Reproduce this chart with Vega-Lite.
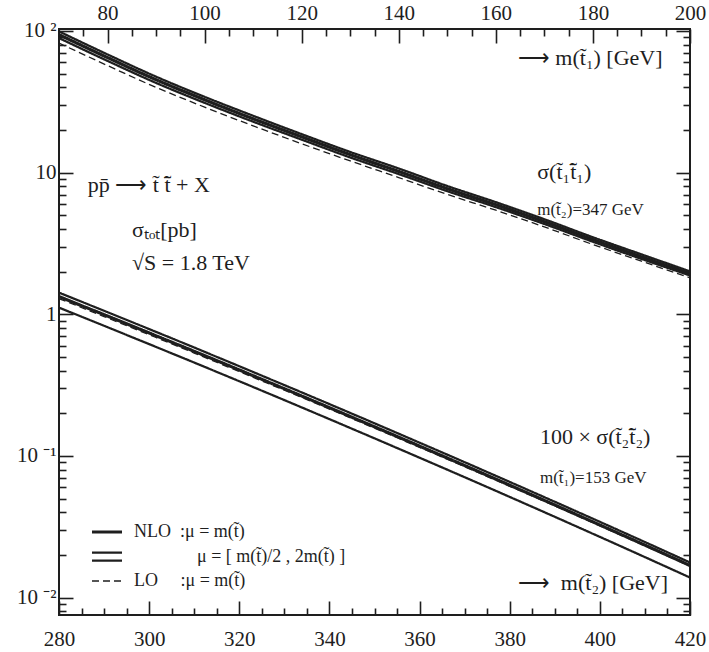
{
  "$schema": "https://vega.github.io/schema/vega-lite/v6.json",
  "width": 631,
  "height": 586,
  "autosize": {"type": "none"},
  "padding": {"left": 59, "top": 29, "right": 19, "bottom": 37},
  "config": {
    "view": {"stroke": "#1e1e1e", "strokeWidth": 2},
    "font": "Liberation Serif",
    "axis": {"domain": false, "grid": false, "ticks": true, "zindex": 1, "tickColor": "#1e1e1e", "tickWidth": 1.6, "labelColor": "#1e1e1e", "labelFont": "Liberation Serif", "labelFontSize": 21, "labelFlush": false, "labelOverlap": false, "title": null},
    "legend": {"title": null, "orient": "bottom-left", "offset": 25, "padding": 0, "symbolType": "stroke", "symbolSize": 400, "symbolStrokeColor": "#1e1e1e", "labelFont": "Liberation Serif", "labelFontSize": 18, "labelColor": "#1e1e1e", "labelOffset": 26, "rowPadding": 4, "labelLimit": 400},
    "line": {"color": "#1e1e1e"},
    "text": {"color": "#1e1e1e", "font": "Liberation Serif"}
  },
  "datasets": {
    "stop2": [
      {"m": 280, "series": "NLO", "kind": "NLO", "sigma": 1.334},
      {"m": 290, "series": "NLO", "kind": "NLO", "sigma": 0.994},
      {"m": 300, "series": "NLO", "kind": "NLO", "sigma": 0.739},
      {"m": 310, "series": "NLO", "kind": "NLO", "sigma": 0.548},
      {"m": 320, "series": "NLO", "kind": "NLO", "sigma": 0.405},
      {"m": 330, "series": "NLO", "kind": "NLO", "sigma": 0.2984},
      {"m": 340, "series": "NLO", "kind": "NLO", "sigma": 0.2193},
      {"m": 350, "series": "NLO", "kind": "NLO", "sigma": 0.1607},
      {"m": 360, "series": "NLO", "kind": "NLO", "sigma": 0.1174},
      {"m": 370, "series": "NLO", "kind": "NLO", "sigma": 0.0856},
      {"m": 380, "series": "NLO", "kind": "NLO", "sigma": 0.0622},
      {"m": 390, "series": "NLO", "kind": "NLO", "sigma": 0.0451},
      {"m": 400, "series": "NLO", "kind": "NLO", "sigma": 0.03258},
      {"m": 410, "series": "NLO", "kind": "NLO", "sigma": 0.02348},
      {"m": 420, "series": "NLO", "kind": "NLO", "sigma": 0.01686},
      {"m": 280, "series": "hi", "kind": "scale", "sigma": 1.423},
      {"m": 290, "series": "hi", "kind": "scale", "sigma": 1.059},
      {"m": 300, "series": "hi", "kind": "scale", "sigma": 0.787},
      {"m": 310, "series": "hi", "kind": "scale", "sigma": 0.583},
      {"m": 320, "series": "hi", "kind": "scale", "sigma": 0.430},
      {"m": 330, "series": "hi", "kind": "scale", "sigma": 0.3166},
      {"m": 340, "series": "hi", "kind": "scale", "sigma": 0.2324},
      {"m": 350, "series": "hi", "kind": "scale", "sigma": 0.1701},
      {"m": 360, "series": "hi", "kind": "scale", "sigma": 0.1241},
      {"m": 370, "series": "hi", "kind": "scale", "sigma": 0.0904},
      {"m": 380, "series": "hi", "kind": "scale", "sigma": 0.0656},
      {"m": 390, "series": "hi", "kind": "scale", "sigma": 0.0475},
      {"m": 400, "series": "hi", "kind": "scale", "sigma": 0.03429},
      {"m": 410, "series": "hi", "kind": "scale", "sigma": 0.02468},
      {"m": 420, "series": "hi", "kind": "scale", "sigma": 0.01770},
      {"m": 280, "series": "lo", "kind": "scale", "sigma": 1.115},
      {"m": 290, "series": "lo", "kind": "scale", "sigma": 0.830},
      {"m": 300, "series": "lo", "kind": "scale", "sigma": 0.616},
      {"m": 310, "series": "lo", "kind": "scale", "sigma": 0.4565},
      {"m": 320, "series": "lo", "kind": "scale", "sigma": 0.337},
      {"m": 330, "series": "lo", "kind": "scale", "sigma": 0.248},
      {"m": 340, "series": "lo", "kind": "scale", "sigma": 0.182},
      {"m": 350, "series": "lo", "kind": "scale", "sigma": 0.1332},
      {"m": 360, "series": "lo", "kind": "scale", "sigma": 0.0972},
      {"m": 370, "series": "lo", "kind": "scale", "sigma": 0.0708},
      {"m": 380, "series": "lo", "kind": "scale", "sigma": 0.0514},
      {"m": 390, "series": "lo", "kind": "scale", "sigma": 0.0372},
      {"m": 400, "series": "lo", "kind": "scale", "sigma": 0.02685},
      {"m": 410, "series": "lo", "kind": "scale", "sigma": 0.01932},
      {"m": 420, "series": "lo", "kind": "scale", "sigma": 0.01386},
      {"m": 280, "series": "LO", "kind": "LO", "sigma": 1.291},
      {"m": 290, "series": "LO", "kind": "LO", "sigma": 0.964},
      {"m": 300, "series": "LO", "kind": "LO", "sigma": 0.7175},
      {"m": 310, "series": "LO", "kind": "LO", "sigma": 0.533},
      {"m": 320, "series": "LO", "kind": "LO", "sigma": 0.394},
      {"m": 330, "series": "LO", "kind": "LO", "sigma": 0.291},
      {"m": 340, "series": "LO", "kind": "LO", "sigma": 0.2142},
      {"m": 350, "series": "LO", "kind": "LO", "sigma": 0.1572},
      {"m": 360, "series": "LO", "kind": "LO", "sigma": 0.1150},
      {"m": 370, "series": "LO", "kind": "LO", "sigma": 0.0840},
      {"m": 380, "series": "LO", "kind": "LO", "sigma": 0.0611},
      {"m": 390, "series": "LO", "kind": "LO", "sigma": 0.0444},
      {"m": 400, "series": "LO", "kind": "LO", "sigma": 0.03210},
      {"m": 410, "series": "LO", "kind": "LO", "sigma": 0.02317},
      {"m": 420, "series": "LO", "kind": "LO", "sigma": 0.01666}
    ],
    "stop1": [
      {"m": 70, "series": "NLO", "kind": "NLO", "sigma": 94.2},
      {"m": 80, "series": "NLO", "kind": "NLO", "sigma": 64.9},
      {"m": 90, "series": "NLO", "kind": "NLO", "sigma": 45.3},
      {"m": 100, "series": "NLO", "kind": "NLO", "sigma": 32.7},
      {"m": 110, "series": "NLO", "kind": "NLO", "sigma": 24.0},
      {"m": 120, "series": "NLO", "kind": "NLO", "sigma": 17.9},
      {"m": 130, "series": "NLO", "kind": "NLO", "sigma": 13.4},
      {"m": 140, "series": "NLO", "kind": "NLO", "sigma": 10.2},
      {"m": 150, "series": "NLO", "kind": "NLO", "sigma": 7.71},
      {"m": 160, "series": "NLO", "kind": "NLO", "sigma": 5.94},
      {"m": 170, "series": "NLO", "kind": "NLO", "sigma": 4.51},
      {"m": 180, "series": "NLO", "kind": "NLO", "sigma": 3.37},
      {"m": 190, "series": "NLO", "kind": "NLO", "sigma": 2.55},
      {"m": 200, "series": "NLO", "kind": "NLO", "sigma": 1.94},
      {"m": 70, "series": "hi", "kind": "scale", "sigma": 99.3},
      {"m": 80, "series": "hi", "kind": "scale", "sigma": 68.3},
      {"m": 90, "series": "hi", "kind": "scale", "sigma": 47.6},
      {"m": 100, "series": "hi", "kind": "scale", "sigma": 34.3},
      {"m": 110, "series": "hi", "kind": "scale", "sigma": 25.2},
      {"m": 120, "series": "hi", "kind": "scale", "sigma": 18.7},
      {"m": 130, "series": "hi", "kind": "scale", "sigma": 14.0},
      {"m": 140, "series": "hi", "kind": "scale", "sigma": 10.7},
      {"m": 150, "series": "hi", "kind": "scale", "sigma": 8.05},
      {"m": 160, "series": "hi", "kind": "scale", "sigma": 6.19},
      {"m": 170, "series": "hi", "kind": "scale", "sigma": 4.69},
      {"m": 180, "series": "hi", "kind": "scale", "sigma": 3.50},
      {"m": 190, "series": "hi", "kind": "scale", "sigma": 2.65},
      {"m": 200, "series": "hi", "kind": "scale", "sigma": 2.01},
      {"m": 70, "series": "lo", "kind": "scale", "sigma": 89.1},
      {"m": 80, "series": "lo", "kind": "scale", "sigma": 61.5},
      {"m": 90, "series": "lo", "kind": "scale", "sigma": 43.0},
      {"m": 100, "series": "lo", "kind": "scale", "sigma": 31.1},
      {"m": 110, "series": "lo", "kind": "scale", "sigma": 22.9},
      {"m": 120, "series": "lo", "kind": "scale", "sigma": 17.1},
      {"m": 130, "series": "lo", "kind": "scale", "sigma": 12.8},
      {"m": 140, "series": "lo", "kind": "scale", "sigma": 9.77},
      {"m": 150, "series": "lo", "kind": "scale", "sigma": 7.40},
      {"m": 160, "series": "lo", "kind": "scale", "sigma": 5.71},
      {"m": 170, "series": "lo", "kind": "scale", "sigma": 4.34},
      {"m": 180, "series": "lo", "kind": "scale", "sigma": 3.25},
      {"m": 190, "series": "lo", "kind": "scale", "sigma": 2.46},
      {"m": 200, "series": "lo", "kind": "scale", "sigma": 1.88},
      {"m": 70, "series": "LO", "kind": "LO", "sigma": 82.2},
      {"m": 80, "series": "LO", "kind": "LO", "sigma": 57.0},
      {"m": 90, "series": "LO", "kind": "LO", "sigma": 40.0},
      {"m": 100, "series": "LO", "kind": "LO", "sigma": 29.0},
      {"m": 110, "series": "LO", "kind": "LO", "sigma": 21.4},
      {"m": 120, "series": "LO", "kind": "LO", "sigma": 16.0},
      {"m": 130, "series": "LO", "kind": "LO", "sigma": 12.1},
      {"m": 140, "series": "LO", "kind": "LO", "sigma": 9.23},
      {"m": 150, "series": "LO", "kind": "LO", "sigma": 7.02},
      {"m": 160, "series": "LO", "kind": "LO", "sigma": 5.43},
      {"m": 170, "series": "LO", "kind": "LO", "sigma": 4.14},
      {"m": 180, "series": "LO", "kind": "LO", "sigma": 3.11},
      {"m": 190, "series": "LO", "kind": "LO", "sigma": 2.37},
      {"m": 200, "series": "LO", "kind": "LO", "sigma": 1.81}
    ],
    "bigText": [
      {"x": 286.4, "y": 8.18, "text": "pp̄ ⟶ t̃ t̃̄ + X"},
      {"x": 296.2, "y": 3.94, "text": "σₜₒₜ[pb]"},
      {"x": 296.2, "y": 2.30, "text": "√S = 1.8 TeV"},
      {"x": 386.1, "y": 10.1, "text": "σ(t̃₁t̃̄₁)"},
      {"x": 386.7, "y": 0.136, "text": "100 × σ(t̃₂t̃̄₂)"},
      {"x": 381.8, "y": 64.5, "text": "⟶ m(t̃₁) [GeV]"},
      {"x": 381.8, "y": 0.01268, "text": "⟶ \u00a0m(t̃₂) [GeV]"}
    ],
    "smallText": [
      {"x": 386.1, "y": 5.45, "text": "m(t̃₂)=347 GeV"},
      {"x": 386.7, "y": 0.0698, "text": "m(t̃₁)=153 GeV"}
    ]
  },
  "layer": [
    {
      "data": {"name": "stop2"},
      "transform": [{"filter": "datum.m === 280"}],
      "mark": {"type": "line"},
      "encoding": {
        "x": {"field": "m", "type": "quantitative", "scale": {"domain": [280, 420], "nice": false, "zero": false}, "axis": null},
        "y": {"field": "sigma", "type": "quantitative", "scale": {"type": "log", "domain": [0.00754, 103.3], "nice": false}, "axis": null},
        "detail": {"field": "series"},
        "strokeWidth": {"field": "kind", "type": "nominal", "scale": {"domain": ["NLO", "scale", "LO"], "range": [3.2, 1.3, 1.5]},
          "legend": {"labelExpr": "datum.value === 'NLO' ? 'NLO\u00a0\u00a0:μ = m(t̃)' : datum.value === 'scale' ? '\u200b\u00a0\u00a0\u00a0\u00a0\u00a0\u00a0\u00a0\u00a0\u00a0\u00a0\u00a0\u00a0\u00a0\u00a0μ = [ m(t̃)/2 , 2m(t̃) ]' : 'LO\u00a0\u00a0\u00a0\u00a0\u00a0:μ = m(t̃)'",
            "encode": {"symbols": {"update": {"shape": {"signal": "datum.value === 'scale' ? 'M-0.4,-0.4H2.6M-0.4,0.4H2.6' : 'M-0.4,0H2.6'"}}}}}},
        "strokeDash": {"field": "kind", "type": "nominal", "scale": {"domain": ["NLO", "scale", "LO"], "range": [[1, 0], [1, 0], [7, 4]]},
          "legend": {"labelExpr": "datum.value === 'NLO' ? 'NLO\u00a0\u00a0:μ = m(t̃)' : datum.value === 'scale' ? '\u200b\u00a0\u00a0\u00a0\u00a0\u00a0\u00a0\u00a0\u00a0\u00a0\u00a0\u00a0\u00a0\u00a0\u00a0μ = [ m(t̃)/2 , 2m(t̃) ]' : 'LO\u00a0\u00a0\u00a0\u00a0\u00a0:μ = m(t̃)'",
            "encode": {"symbols": {"update": {"shape": {"signal": "datum.value === 'scale' ? 'M-0.4,-0.4H2.6M-0.4,0.4H2.6' : 'M-0.4,0H2.6'"}}}}}}
      }
    },
    {
      "data": {"name": "bigText"},
      "mark": {"type": "text", "align": "left", "baseline": "middle", "fontSize": 22},
      "encoding": {
        "x": {"field": "x", "type": "quantitative", "scale": {"domain": [280, 420], "nice": false, "zero": false}, "axis": null},
        "y": {"field": "y", "type": "quantitative", "scale": {"type": "log", "domain": [0.00754, 103.3], "nice": false}, "axis": null},
        "text": {"field": "text"}
      }
    },
    {
      "data": {"name": "smallText"},
      "mark": {"type": "text", "align": "left", "baseline": "middle", "fontSize": 17},
      "encoding": {
        "x": {"field": "x", "type": "quantitative", "scale": {"domain": [280, 420], "nice": false, "zero": false}, "axis": null},
        "y": {"field": "y", "type": "quantitative", "scale": {"type": "log", "domain": [0.00754, 103.3], "nice": false}, "axis": null},
        "text": {"field": "text"}
      }
    },
    {
      "data": {"name": "stop1"},
      "mark": {"type": "line", "interpolate": "monotone"},
      "encoding": {
        "x": {"field": "m", "type": "quantitative", "scale": {"domain": [70, 200], "nice": false, "zero": false},
          "axis": {"orient": "top", "values": [75,80,85,90,95,100,105,110,115,120,125,130,135,140,145,150,155,160,165,170,175,180,185,190,195,200],
            "labelExpr": "datum.value % 20 === 0 ? datum.label : ''",
            "tickSize": {"condition": {"test": "datum.value % 20 === 0", "value": -14}, "value": -7},
            "labelPadding": 20}},
        "y": {"field": "sigma", "type": "quantitative", "scale": {"type": "log", "domain": [0.00754, 103.3], "nice": false},
          "axis": {"orient": "right", "values": [0.008,0.009,0.01,0.02,0.03,0.04,0.05,0.06,0.07,0.08,0.09,0.1,0.2,0.3,0.4,0.5,0.6,0.7,0.8,0.9,1,2,3,4,5,6,7,8,9,10,20,30,40,50,60,70,80,90,100],
            "labels": false,
            "tickSize": {"condition": {"test": "indexof([100,10,1,0.1,0.01], datum.value) >= 0", "value": -14}, "value": -7}}},
        "detail": {"field": "series"},
        "strokeWidth": {"field": "kind", "type": "nominal", "scale": {"domain": ["NLO", "scale", "LO"], "range": [3.2, 1.3, 1.5]}, "legend": null},
        "strokeDash": {"field": "kind", "type": "nominal", "scale": {"domain": ["NLO", "scale", "LO"], "range": [[1, 0], [1, 0], [7, 4]]}, "legend": null}
      }
    },
    {
      "data": {"name": "stop2"},
      "mark": {"type": "line", "interpolate": "monotone"},
      "encoding": {
        "x": {"field": "m", "type": "quantitative", "scale": {"domain": [280, 420], "nice": false, "zero": false},
          "axis": {"orient": "bottom", "values": [280,285,290,295,300,305,310,315,320,325,330,335,340,345,350,355,360,365,370,375,380,385,390,395,400,405,410,415,420],
            "labelExpr": "datum.value % 20 === 0 ? datum.label : ''",
            "tickSize": {"condition": {"test": "datum.value % 20 === 0", "value": -14}, "value": -7},
            "labelPadding": 27}},
        "y": {"field": "sigma", "type": "quantitative", "scale": {"type": "log", "domain": [0.00754, 103.3], "nice": false},
          "axis": {"orient": "left", "values": [0.008,0.009,0.01,0.02,0.03,0.04,0.05,0.06,0.07,0.08,0.09,0.1,0.2,0.3,0.4,0.5,0.6,0.7,0.8,0.9,1,2,3,4,5,6,7,8,9,10,20,30,40,50,60,70,80,90,100],
            "labelExpr": "datum.value === 100 ? '10\u00a0²' : datum.value === 10 ? '10' : datum.value === 1 ? '1' : datum.value === 0.1 ? '10\u00a0⁻¹' : datum.value === 0.01 ? '10\u00a0⁻²' : ''",
            "tickSize": {"condition": {"test": "indexof([100,10,1,0.1,0.01], datum.value) >= 0", "value": -14}, "value": -7},
            "labelPadding": 17}},
        "detail": {"field": "series"},
        "strokeWidth": {"field": "kind", "type": "nominal", "scale": {"domain": ["NLO", "scale", "LO"], "range": [3.2, 1.3, 1.5]}, "legend": null},
        "strokeDash": {"field": "kind", "type": "nominal", "scale": {"domain": ["NLO", "scale", "LO"], "range": [[1, 0], [1, 0], [7, 4]]}, "legend": null}
      }
    }
  ],
  "resolve": {"scale": {"x": "independent"}, "axis": {"x": "independent", "y": "independent"}}
}
